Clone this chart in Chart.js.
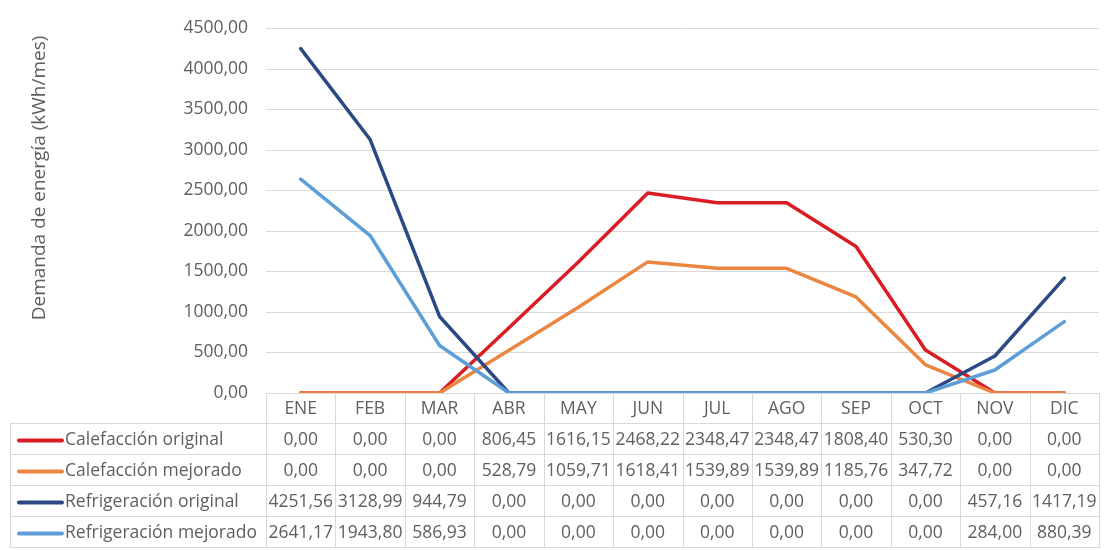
<!DOCTYPE html>
<html lang="es">
<head>
<meta charset="utf-8">
<title>Demanda de energía mensual</title>
<script src="https://cdn.jsdelivr.net/npm/chart.js@4/dist/chart.umd.min.js"></script>
<style>
  html, body { margin: 0; padding: 0; background: #ffffff; }
  #wrap { width: 1104px; height: 550px; position: relative; }
</style>
</head>
<body>
<div id="wrap"><canvas id="chart" width="1104" height="550"></canvas></div>
<script>
// Meses (columnas de la tabla de datos)
const months = ['ENE', 'FEB', 'MAR', 'ABR', 'MAY', 'JUN', 'JUL', 'AGO', 'SEP', 'OCT', 'NOV', 'DIC'];

// Demanda mensual por serie (kWh/mes)
const calefaccionOriginal  = [0, 0, 0, 806.45, 1616.15, 2468.22, 2348.47, 2348.47, 1808.40, 530.30, 0, 0];
const calefaccionMejorado  = [0, 0, 0, 528.79, 1059.71, 1618.41, 1539.89, 1539.89, 1185.76, 347.72, 0, 0];
const refrigeracionOriginal = [4251.56, 3128.99, 944.79, 0, 0, 0, 0, 0, 0, 0, 457.16, 1417.19];
const refrigeracionMejorado = [2641.17, 1943.80, 586.93, 0, 0, 0, 0, 0, 0, 0, 284.00, 880.39];

const seriesNames = ['Calefacción original', 'Calefacción mejorado', 'Refrigeración original', 'Refrigeración mejorado'];
const seriesColors = ['#DC1C24', '#EB8641', '#2B4A85', '#5D9ED6'];

// Eje Y
const yMin = 0, yMax = 4500, yStep = 500;
const yTitle = 'Demanda de energía (kWh/mes)';

const FONT = '"Open Sans", "Liberation Sans", sans-serif';
const TEXT = '#5f5f5f';
const GRID = '#D9D9D9';
const TEXT_SIZE = 17.5;

const fmt = v => v.toFixed(2).replace('.', ',');

const allSeries = [calefaccionOriginal, calefaccionMejorado, refrigeracionOriginal, refrigeracionMejorado];

// Tabla de datos bajo el gráfico y título vertical del eje
const dataTablePlugin = {
  id: 'dataTable',
  afterDraw(chart) {
    const ctx = chart.ctx;
    const x = chart.scales.x;
    const area = chart.chartArea;
    const top = area.bottom;
    const rowH = 31;
    const tableLeft = 10;
    const colW = (area.right - area.left) / months.length;

    ctx.save();
    ctx.strokeStyle = GRID;
    ctx.lineWidth = 1;

    // líneas horizontales
    ctx.beginPath();
    ctx.moveTo(area.left, top + 0.5);
    ctx.lineTo(area.right, top + 0.5);
    for (let r = 1; r <= allSeries.length + 1; r++) {
      const y = Math.round(top + r * rowH) - 0.5;
      ctx.moveTo(tableLeft, y);
      ctx.lineTo(area.right, y);
    }
    // líneas verticales
    for (let c = 0; c <= months.length; c++) {
      const xx = Math.round(area.left + c * colW) + 0.5;
      ctx.moveTo(xx, top);
      ctx.lineTo(xx, top + (allSeries.length + 1) * rowH);
    }
    ctx.moveTo(tableLeft + 0.5, top + rowH);
    ctx.lineTo(tableLeft + 0.5, top + (allSeries.length + 1) * rowH);
    ctx.stroke();

    ctx.font = TEXT_SIZE + 'px ' + FONT;
    ctx.fillStyle = TEXT;
    ctx.textBaseline = 'middle';

    // cabecera de meses
    ctx.textAlign = 'center';
    months.forEach((m, i) => {
      ctx.fillText(m, x.getPixelForValue(i), top + rowH / 2 + 1);
    });

    // filas de series
    allSeries.forEach((vals, s) => {
      const cy = top + rowH * (s + 1) + rowH / 2 + 1;
      // clave de leyenda
      ctx.save();
      ctx.strokeStyle = seriesColors[s];
      ctx.lineWidth = 4;
      ctx.lineCap = 'round';
      ctx.beginPath();
      ctx.moveTo(19, cy);
      ctx.lineTo(62, cy);
      ctx.stroke();
      ctx.restore();

      ctx.textAlign = 'left';
      ctx.fillText(seriesNames[s], 65, cy);
      ctx.textAlign = 'center';
      vals.forEach((v, i) => {
        ctx.fillText(fmt(v), x.getPixelForValue(i), cy);
      });
    });

    // título del eje Y
    ctx.translate(40, 178);
    ctx.rotate(-Math.PI / 2);
    ctx.textAlign = 'center';
    ctx.font = '19px ' + FONT;
    ctx.fillText(yTitle, 0, 0);
    ctx.restore();
  }
};

new Chart(document.getElementById('chart'), {
  type: 'line',
  data: {
    labels: months,
    datasets: allSeries.map((vals, i) => ({
      label: seriesNames[i],
      data: vals,
      borderColor: seriesColors[i],
      backgroundColor: seriesColors[i],
      borderWidth: 3.5,
      pointRadius: 0,
      pointHoverRadius: 0,
      tension: 0,
      fill: false,
      order: allSeries.length - i,
      borderCapStyle: 'round',
      borderJoinStyle: 'round'
    }))
  },
  options: {
    responsive: false,
    animation: false,
    events: [],
    layout: { padding: { top: 23, right: 5, bottom: 157, left: 0 } },
    plugins: {
      legend: { display: false },
      tooltip: { enabled: false },
      title: { display: false }
    },
    scales: {
      x: {
        type: 'category',
        display: false,
        offset: true
      },
      y: {
        min: yMin,
        max: yMax,
        afterFit(scale) { scale.width = 266; },
        border: { display: false },
        grid: { color: GRID, lineWidth: 1, drawTicks: false },
        ticks: {
          stepSize: yStep,
          padding: 18,
          color: TEXT,
          font: { family: FONT, size: TEXT_SIZE },
          callback: v => fmt(v)
        }
      }
    }
  },
  plugins: [dataTablePlugin]
});
</script>
</body>
</html>
